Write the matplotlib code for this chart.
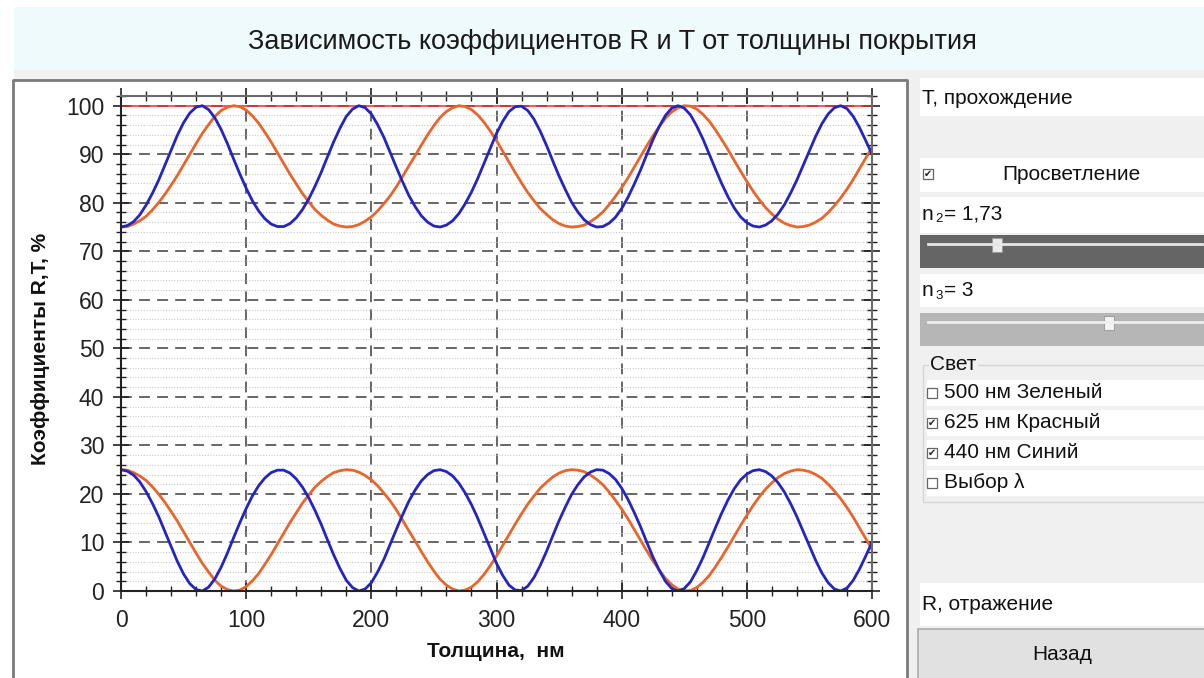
import numpy as np
import matplotlib.pyplot as plt
from matplotlib.patches import Rectangle
from matplotlib.ticker import MultipleLocator

plt.rcParams['font.family'] = ['Liberation Sans', 'DejaVu Sans']

# -----------------------------
# Data (step 5 nm)
# -----------------------------
thickness = np.arange(0, 601, 5)

R_blue = [
    25.0, 24.7, 23.9, 22.5, 20.5, 18.1, 15.4, 12.3, 9.2, 6.1,
    3.5, 1.5, 0.3, 0.0, 0.8, 2.5, 4.9, 7.8, 11.0, 14.1,
    17.0, 19.6, 21.7, 23.3, 24.4, 24.9, 24.9, 24.3, 23.1, 21.4,
    19.2, 16.6, 13.7, 10.5, 7.4, 4.6, 2.2, 0.7, 0.0, 0.4,
    1.7, 3.9, 6.5, 9.6, 12.7, 15.7, 18.5, 20.8, 22.7, 24.0,
    24.8, 25.0, 24.6, 23.7, 22.2, 20.2, 17.8, 15.0, 11.9, 8.8,
    5.7, 3.2, 1.2, 0.2, 0.1, 1.0, 2.8, 5.3, 8.2, 11.4,
    14.5, 17.3, 19.9, 21.9, 23.5, 24.5, 25.0, 24.9, 24.2, 23.0,
    21.2, 18.9, 16.2, 13.3, 10.1, 7.0, 4.3, 2.0, 0.5, 0.0,
    0.5, 1.9, 4.2, 6.9, 10.0, 13.1, 16.1, 18.8, 21.1, 22.9,
    24.1, 24.8, 25.0, 24.6, 23.7, 22.3, 20.4, 18.0, 15.3, 12.3,
    9.3, 6.3, 3.7, 1.7, 0.4, 0.0, 0.6, 2.2, 4.5, 7.2,
    10.0,
]

T_blue = [
    75.0, 75.3, 76.1, 77.5, 79.5, 81.9, 84.6, 87.7, 90.8, 93.9,
    96.5, 98.5, 99.7, 100.0, 99.2, 97.5, 95.1, 92.2, 89.0, 85.9,
    83.0, 80.4, 78.3, 76.7, 75.6, 75.1, 75.1, 75.7, 76.9, 78.6,
    80.8, 83.4, 86.3, 89.5, 92.6, 95.4, 97.8, 99.3, 100.0, 99.6,
    98.3, 96.1, 93.5, 90.4, 87.3, 84.3, 81.5, 79.2, 77.3, 76.0,
    75.2, 75.0, 75.4, 76.3, 77.8, 79.8, 82.2, 85.0, 88.1, 91.2,
    94.3, 96.8, 98.8, 99.8, 99.9, 99.0, 97.2, 94.7, 91.8, 88.6,
    85.5, 82.7, 80.1, 78.1, 76.5, 75.5, 75.0, 75.1, 75.8, 77.0,
    78.8, 81.1, 83.8, 86.7, 89.9, 93.0, 95.7, 98.0, 99.5, 100.0,
    99.5, 98.1, 95.8, 93.1, 90.0, 86.9, 83.9, 81.2, 78.9, 77.1,
    75.9, 75.2, 75.0, 75.4, 76.3, 77.7, 79.6, 82.0, 84.7, 87.7,
    90.7, 93.7, 96.3, 98.3, 99.6, 100.0, 99.4, 97.8, 95.5, 92.8,
    90.0,
]

R_red = [
    25.0, 24.9, 24.4, 23.7, 22.8, 21.5, 20.0, 18.3, 16.4, 14.4,
    12.2, 10.0, 7.8, 5.7, 3.9, 2.2, 1.0, 0.3, 0.0, 0.2,
    0.9, 2.1, 3.6, 5.5, 7.5, 9.7, 11.9, 14.1, 16.1, 18.1,
    19.8, 21.4, 22.6, 23.6, 24.4, 24.8, 25.0, 24.9, 24.5, 23.8,
    22.9, 21.7, 20.2, 18.6, 16.7, 14.6, 12.4, 10.3, 8.1, 6.0,
    4.1, 2.4, 1.2, 0.4, 0.0, 0.2, 0.8, 1.9, 3.4, 5.2,
    7.2, 9.4, 11.6, 13.8, 15.9, 17.9, 19.6, 21.2, 22.4, 23.5,
    24.3, 24.8, 25.0, 24.9, 24.6, 23.9, 23.0, 21.9, 20.4, 18.7,
    16.9, 14.9, 12.7, 10.5, 8.3, 6.2, 4.3, 2.6, 1.3, 0.4,
    0.0, 0.1, 0.7, 1.8, 3.2, 5.0, 7.0, 9.1, 11.3, 13.5,
    15.6, 17.6, 19.4, 21.0, 22.3, 23.4, 24.2, 24.7, 25.0, 24.9,
    24.6, 24.0, 23.2, 22.0, 20.6, 19.0, 17.2, 15.2, 13.0, 10.8,
    8.6,
]

T_red = [
    75.0, 75.1, 75.6, 76.3, 77.2, 78.5, 80.0, 81.7, 83.6, 85.6,
    87.8, 90.0, 92.2, 94.3, 96.1, 97.8, 99.0, 99.7, 100.0, 99.8,
    99.1, 97.9, 96.4, 94.5, 92.5, 90.3, 88.1, 85.9, 83.9, 81.9,
    80.2, 78.6, 77.4, 76.4, 75.6, 75.2, 75.0, 75.1, 75.5, 76.2,
    77.1, 78.3, 79.8, 81.4, 83.3, 85.4, 87.6, 89.7, 91.9, 94.0,
    95.9, 97.6, 98.8, 99.6, 100.0, 99.8, 99.2, 98.1, 96.6, 94.8,
    92.8, 90.6, 88.4, 86.2, 84.1, 82.1, 80.4, 78.8, 77.6, 76.5,
    75.7, 75.2, 75.0, 75.1, 75.4, 76.1, 77.0, 78.1, 79.6, 81.3,
    83.1, 85.1, 87.3, 89.5, 91.7, 93.8, 95.7, 97.4, 98.7, 99.6,
    100.0, 99.9, 99.3, 98.2, 96.8, 95.0, 93.0, 90.9, 88.7, 86.5,
    84.4, 82.4, 80.6, 79.0, 77.7, 76.6, 75.8, 75.3, 75.0, 75.1,
    75.4, 76.0, 76.8, 78.0, 79.4, 81.0, 82.8, 84.8, 87.0, 89.2,
    91.4,
]

# thin red line at 100 %
limit_x = [0, 600]
limit_y = [100, 100]

x_ticks = [0, 100, 200, 300, 400, 500, 600]
y_ticks = [0, 10, 20, 30, 40, 50, 60, 70, 80, 90, 100]

title_text = "Зависимость коэффициентов R и T от толщины покрытия"
x_label = "Толщина,  нм"
y_label = "Коэффициенты R,T, %"
light_options = ["500 нм Зеленый", "625 нм Красный", "440 нм Синий", "Выбор λ"]
light_checked = [False, True, True, False]

# -----------------------------
# Figure + GUI-like background (pixel coords)
# -----------------------------
W, H = 1204, 678
fig = plt.figure(figsize=(W / 100, H / 100), dpi=100)
fig.patch.set_facecolor('white')

bg = fig.add_axes([0, 0, 1, 1], zorder=0)
bg.set_xlim(0, W)
bg.set_ylim(H, 0)
bg.axis('off')

PANEL_FS = 15


def box(x0, y0, x1, y1, fc, ec='none', lw=0):
    bg.add_patch(Rectangle((x0, y0), x1 - x0, y1 - y0,
                           facecolor=fc, edgecolor=ec, linewidth=lw))


def checkbox(x, y, checked):
    box(x, y - 5, x + 10, y + 5, 'white', '#666666', 0.9)
    if checked:
        bg.text(x + 5, y, '✔', fontsize=7, ha='center', va='center',
                family='DejaVu Sans', color='#222222')


# panel background, title band
box(14, 70, W, H, '#f0f0f0')
box(14, 7, W, 70, '#eefafc')
bg.text(612, 42, title_text, fontsize=19.5, ha='center', va='center',
        color='#1a1a1a')

# chart frame
box(13, 80, 907, H, 'white')
bg.plot([13, 13, 907, 907], [H, 80, 80, H], color='#7a7a7a', lw=2)

# right panel widgets
box(920, 78, W, 116, 'white')
bg.text(922, 98, "T, прохождение", fontsize=PANEL_FS, va='center',
        color='#111111')

box(920, 158, W, 192, 'white')
checkbox(923, 174, True)
bg.text(1071, 174, "Просветление", fontsize=PANEL_FS, ha='center',
        va='center', color='#111111')

box(920, 197, W, 233, 'white')
bg.text(922, 214, "n", fontsize=PANEL_FS, va='center', color='#111111')
bg.text(935, 219, "2", fontsize=9.5, va='center', color='#111111')
bg.text(944, 214, "= 1,73", fontsize=PANEL_FS, va='center', color='#111111')

box(920, 235, W, 268, '#656565')
bg.plot([928, 1202], [244, 244], color='#e6e6e6', lw=2)
box(992, 238, 1002, 252, '#ececec', '#9a9a9a', 0.8)

box(920, 274, W, 307, 'white')
bg.text(922, 291, "n", fontsize=PANEL_FS, va='center', color='#111111')
bg.text(935, 296, "3", fontsize=9.5, va='center', color='#111111')
bg.text(944, 291, "= 3", fontsize=PANEL_FS, va='center', color='#111111')

box(920, 313, W, 346, '#b6b6b6')
bg.plot([928, 1202], [322, 322], color='#eeeeee', lw=2)
box(1104, 316, 1114, 330, '#f4f4f4', '#a0a0a0', 0.8)

# "Свет" group
box(923, 365, W + 5, 502, '#f0f0f0', '#d6d6d6', 1)
bg.text(930, 365, "Свет", fontsize=PANEL_FS, va='center', color='#111111',
        bbox=dict(facecolor='#f0f0f0', edgecolor='none', pad=1))
row_top = [380, 410, 440, 470]
for top, label, checked in zip(row_top, light_options, light_checked):
    box(927, top, W, top + 26, 'white')
    checkbox(927, top + 13, checked)
    bg.text(944, top + 13, label, fontsize=PANEL_FS, va='center',
            color='#111111')

box(920, 583, W, 626, 'white')
bg.text(922, 604, "R, отражение", fontsize=PANEL_FS, va='center',
        color='#111111')

box(918, 629, W + 5, H + 5, '#e1e1e1', '#adadad', 1.2)
bg.text(1062, 655, "Назад", fontsize=PANEL_FS, ha='center', va='center',
        color='#111111')

# -----------------------------
# Main plot
# -----------------------------
ax = fig.add_axes([121 / W, (H - 591) / H, (872 - 121) / W, (591 - 96) / H],
                  zorder=2)
ax.set_facecolor('none')

ax.yaxis.grid(True, which='minor', linestyle=(0, (1, 1.5)), color='#c8c8c8',
              lw=0.8)
ax.grid(True, which='major', linestyle=(0, (6, 4)), color='#5a5a5a', lw=1.3)
ax.xaxis.grid(False, which='minor')

ax.plot(limit_x, limit_y, color='#e0302c', lw=1.1)
ax.plot(thickness, T_red, color='#e8652b', lw=2)
ax.plot(thickness, R_red, color='#e8652b', lw=2)
ax.plot(thickness, T_blue, color='#2424c2', lw=2)
ax.plot(thickness, R_blue, color='#2424c2', lw=2)

ax.set_xlim(0, 600)
ax.set_ylim(0, 102)
ax.set_xticks(x_ticks)
ax.set_yticks(y_ticks)
ax.xaxis.set_minor_locator(MultipleLocator(20))
ax.yaxis.set_minor_locator(MultipleLocator(2))

ax.tick_params(which='both', direction='inout', top=True, right=True,
               colors='#222222', labelsize=16.5)
ax.tick_params(which='major', length=12, width=1.2)
ax.tick_params(which='minor', length=7, width=1.0)
ax.tick_params(axis='x', pad=7)
ax.tick_params(axis='y', pad=6)

for side in ['left', 'bottom']:
    ax.spines[side].set_color('#222222')
    ax.spines[side].set_linewidth(1.5)
for side in ['top', 'right']:
    ax.spines[side].set_color('#6a6a6a')
    ax.spines[side].set_linewidth(1.5)

ax.set_xlabel(x_label, fontsize=15, fontweight='bold', color='#111111')
ax.set_ylabel(y_label, fontsize=15, fontweight='bold', color='#111111')
ax.xaxis.set_label_coords(0.4987, -0.104)
ax.yaxis.set_label_coords(-0.095, 0.49)

fig.savefig("out.png", dpi=100)
